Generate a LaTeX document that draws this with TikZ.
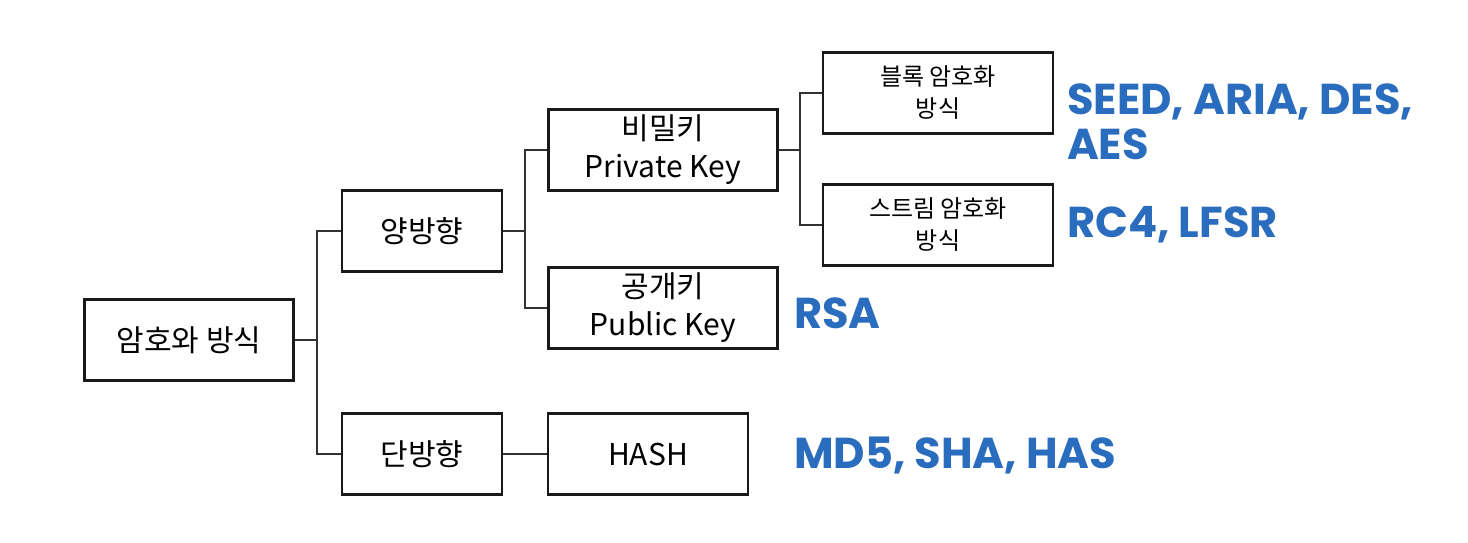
\documentclass[tikz,border=0pt]{standalone}
\usepackage{fontspec}
\setmainfont{Noto Sans CJK KR}
\newfontfamily\algofont{Poppins}
\definecolor{algoBlue}{RGB}{42,108,189}
\definecolor{lineGray}{RGB}{50,50,50}
\usetikzlibrary{positioning}

\begin{document}
\begin{tikzpicture}[x=0.5pt, y=-0.5pt,
  box/.style={draw=black!90, line width=1.4pt, minimum height=40.5pt,
              inner sep=2pt, align=center, font=\fontsize{15}{19}\selectfont},
  subbox/.style={box, minimum width=115pt, font=\fontsize{12}{16}\selectfont},
  link/.style={draw=lineGray, line width=1.1pt},
  algo/.style={anchor=west, align=left, text=algoBlue,
               font=\algofont\bfseries\fontsize{21.6}{22.5}\selectfont}
]
  \useasboundingbox (0,0) rectangle (1468,542);

  \node[box, minimum width=104.5pt] (root) at (189,340) {암호와 방식};
  \node[box, minimum width=80pt]    (yang) at (422,231) {양방향};
  \node[box, minimum width=80pt]    (dan)  at (422,454) {단방향};
  \node[box, minimum width=114.5pt] (priv) at (663,150) {비밀키\\Private Key};
  \node[box, minimum width=114.5pt] (pub)  at (663,308) {공개키\\Public Key};
  \node[box, minimum width=100pt]   (hash) at (648,454) {HASH};
  \node[subbox]                     (blk)  at (938,93)  {블록 암호화\\방식};
  \node[subbox]                     (strm) at (938,225) {스트림 암호화\\방식};

  \node[algo] (blkalg)  at (1060,122) {SEED, ARIA, DES,\\AES};
  \node[algo] (strmalg) at (1060,225) {RC4, LFSR};
  \node[algo] (pubalg)  at (787,313)  {RSA};
  \node[algo] (hashalg) at (787,455)  {MD5, SHA, HAS};

  \coordinate (b1) at (317,340);
  \coordinate (b2) at (525,231);
  \coordinate (b3) at (800,150);
  \draw[link] (root) -- (b1);
  \draw[link] (yang.west) -| (b1) |- (dan.west);
  \draw[link] (yang) -- (b2);
  \draw[link] (priv.west) -| (b2) |- (pub.west);
  \draw[link] (dan) -- (hash);
  \draw[link] (priv) -- (b3);
  \draw[link] (blk.west) -| (b3) |- (strm.west);
\end{tikzpicture}
\end{document}
